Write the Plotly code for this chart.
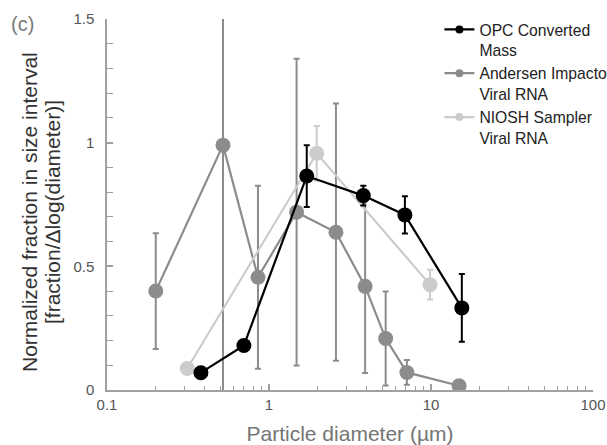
import plotly.graph_objects as go

# ---- data ----
opc_x = [0.38, 0.70, 1.71, 3.82, 6.9, 15.5]
opc_y = [0.07, 0.18, 0.865, 0.786, 0.708, 0.332]
opc_err = [0, 0, 0.125, 0.04, 0.075, 0.137]

andersen_x = [0.20, 0.52, 0.855, 1.48, 2.59, 3.92, 5.25, 7.1, 14.9]
andersen_y = [0.40, 0.99, 0.456, 0.719, 0.638, 0.419, 0.208, 0.071, 0.017]
andersen_err = [0.234, 1.0, 0.37, 0.62, 0.52, 0.35, 0.19, 0.05, 0]

niosh_x = [0.313, 1.97, 9.86]
niosh_y = [0.087, 0.957, 0.426]
niosh_err = [0, 0.11, 0.06]

x_tickvals = [0.1, 1, 10, 100]
x_ticktext = ["0.1", "1", "10", "100"]
y_tickvals = [0, 0.5, 1, 1.5]
y_ticktext = ["0", "0.5", "1", "1.5"]

names = ["OPC Converted<br>Mass", "Andersen Impactor<br>Viral RNA", "NIOSH Sampler<br>Viral RNA"]
colors = ["#000000", "#8c8c8c", "#cccccc"]

FONT = "Liberation Sans, Arial, sans-serif"

fig = go.Figure()

series = [
    (andersen_x, andersen_y, andersen_err, colors[1]),
    (niosh_x, niosh_y, niosh_err, colors[2]),
    (opc_x, opc_y, opc_err, colors[0]),
]
for xs, ys, es, c in series:
    fig.add_trace(go.Scatter(
        x=xs, y=ys, mode="lines+markers",
        line=dict(color=c, width=2.2),
        marker=dict(color=c, size=15),
        error_y=dict(type="data", array=es, visible=True, color=c, thickness=2, width=3),
        showlegend=False,
    ))

# legend entries (no data drawn)
for i, (n, c) in enumerate(zip(names, colors)):
    fig.add_trace(go.Scatter(
        x=[None], y=[None], mode="lines+markers", name=n,
        line=dict(color=c, width=2.2), marker=dict(color=c, size=8),
        legendrank=i + 1,
    ))

axis_col = "#a0a0a0"
fig.update_layout(
    width=607, height=445,
    margin=dict(l=107, r=14, t=19, b=55, autoexpand=False),
    paper_bgcolor="white", plot_bgcolor="white",
    font=dict(family=FONT, size=15, color="#555555"),
    showlegend=True,
    legend=dict(
        x=0.684, y=1.017, xanchor="left", yanchor="top",
        font=dict(family=FONT, size=15.7, color="#222222"),
        bgcolor="rgba(0,0,0,0)", valign="top", tracegroupgap=0,
    ),
    xaxis=dict(
        type="log", range=[-1, 2],
        tickvals=x_tickvals, ticktext=x_ticktext,
        ticks="inside", ticklen=6, tickcolor=axis_col, tickwidth=1.5,
        minor=dict(ticks="inside", ticklen=4, tickcolor=axis_col, tickwidth=1.2,
                   tickvals=[a * b for b in (0.1, 1, 10) for a in range(2, 10)]),
        showline=True, linecolor=axis_col, linewidth=1.5,
        showgrid=False, zeroline=False,
        tickfont=dict(size=15, color="#555555"),
        title=dict(text="Particle diameter (µm)", font=dict(size=21, color="#757575"), standoff=15),
    ),
    yaxis=dict(
        range=[0, 1.5],
        tickvals=y_tickvals, ticktext=y_ticktext,
        ticks="inside", ticklen=6, tickcolor=axis_col, tickwidth=1.5,
        minor=dict(ticks="inside", ticklen=6, tickcolor=axis_col, tickwidth=1.2, dtick=0.1),
        showline=True, linecolor=axis_col, linewidth=1.5,
        showgrid=False, zeroline=False,
        tickfont=dict(size=15, color="#555555"),
        ticklabelstandoff=8,
    ),
    annotations=[
        dict(text="(c)", xref="paper", yref="paper", x=-(107 - 22) / 486, y=(390 - 24) / 371,
             xanchor="center", yanchor="middle", showarrow=False,
             font=dict(size=20, color="#7a7a7a", family=FONT)),
        dict(text="Normalized fraction in size interval", xref="paper", yref="paper",
             x=-(107 - 29) / 486, y=(390 - 212) / 371, textangle=-90,
             xanchor="center", yanchor="middle", showarrow=False,
             font=dict(size=21, color="#333333", family=FONT)),
        dict(text="[fraction/Δlog(diameter)]", xref="paper", yref="paper",
             x=-(107 - 52) / 486, y=(390 - 212) / 371, textangle=-90,
             xanchor="center", yanchor="middle", showarrow=False,
             font=dict(size=21, color="#333333", family=FONT)),
    ],
)

# remove the default page margin so the 607x445 figure fills the window exactly
fig.write_html(
    "out.html",
    config={"displayModeBar": False},
    post_script="document.body.style.margin='0';document.body.style.overflow='hidden';",
)
